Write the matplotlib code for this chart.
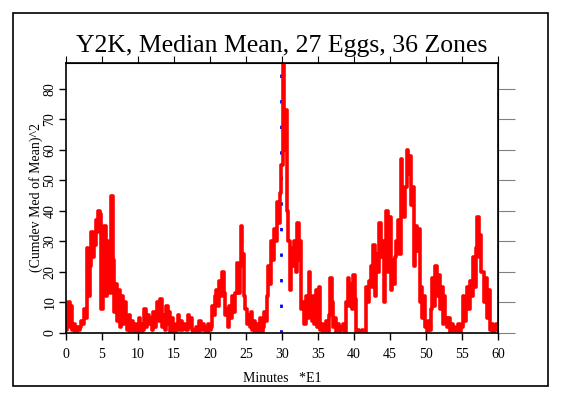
import matplotlib.pyplot as plt
import numpy as np
from matplotlib.patches import Rectangle

# (Cumdev Med of Mean)^2, sampled every 0.2 (units of 10 minutes)
values = [
    1, 3, 10, 2, 9,
    1, 3, 0, 2, 1,
    2, 4, 3, 8, 5,
    28, 12, 22, 33, 25,
    29, 37, 33, 40, 39,
    8, 16, 35, 12, 30,
    22, 13, 45, 24, 7,
    16, 4, 14, 2, 12,
    3, 10, 5, 1, 6,
    0, 4, 1, 3, 0,
    2, 5, 0, 3, 1,
    8, 2, 6, 3, 5,
    1, 7, 2, 5, 10,
    4, 11, 2, 6, 1,
    9, 3, 7, 0, 5,
    1, 0, 3, 6, 1,
    4, 1, 3, 2, 1,
    6, 2, 5, 1, 0,
    1, 2, 0, 4, 1,
    3, 1, 2, 0, 3,
    1, 2, 9, 6, 12,
    14, 9, 17, 12, 20,
    13, 6, 8, 2, 9,
    5, 12, 7, 13, 23,
    13, 22, 35, 26, 12,
    8, 3, 6, 2, 7,
    1, 4, 0, 3, 1,
    5, 0, 2, 7, 4,
    12, 22, 16, 30, 24,
    34, 30, 43, 36, 46,
    55, 92, 60, 73, 40,
    30, 14, 28, 22, 30,
    20, 36, 24, 30, 8,
    10, 3, 12, 5, 20,
    9, 4, 12, 3, 14,
    2, 15, 1, 3, 0,
    1, 4, 0, 6, 18,
    10, 2, 5, 0, 3,
    0, 2, 1, 3, 0,
    10, 18, 9, 16, 8,
    19, 11, 0, 1, 0,
    0, 1, 0, 0, 15,
    10, 17, 22, 15, 29,
    12, 26, 20, 36, 25,
    30, 10, 28, 40, 20,
    38, 14, 24, 16, 25,
    30, 37, 26, 57, 45,
    38, 48, 60, 52, 58,
    42, 48, 22, 35, 27,
    34, 10, 15, 5, 12,
    2, 0, 4, 1, 8,
    18, 9, 22, 12, 19,
    8, 15, 3, 12, 5,
    2, 5, 0, 3, 1,
    0, 2, 1, 3, 0,
    2, 12, 4, 10, 15,
    8, 17, 12, 25, 15,
    28, 38, 25, 32, 20,
    20, 10, 18, 5, 14,
    1, 3, 0, 2, 3,
    1,
]
minutes = np.arange(len(values)) * 0.2
event_time = 30
x_ticks = list(range(0, 61, 5))
y_ticks = list(range(0, 81, 10))

plt.rcParams['font.family'] = ['Liberation Serif', 'DejaVu Serif']

fig = plt.figure(figsize=(5.63, 3.96), dpi=100)
ax = fig.add_axes([66/563, 63/396, 432/563, 270/396])

# outer frame
fig.patches.append(Rectangle((13/563, 10/396), 535/563, 373/396, transform=fig.transFigure,
                             fill=False, edgecolor='black', linewidth=1.2))

ax.axvline(event_time - 0.1, color='blue', linestyle=(0, (1.2, 8)), linewidth=2, zorder=1)
ax.plot(minutes, values, color='red', linewidth=2.6, drawstyle='steps-mid', zorder=2)

ax.set_xlim(0, 60)
ax.set_ylim(0, 88.5)
ax.set_xticks(x_ticks)
ax.set_yticks(y_ticks)
ax.tick_params(axis='both', direction='out', length=5, width=1, labelsize=10)
ax.tick_params(axis='x', pad=6)
ax.tick_params(axis='y', pad=2)
for lab in ax.get_yticklabels():
    lab.set_rotation(90)
    lab.set_va('center')

# top ticks
top = ax.secondary_xaxis('top')
top.set_xticks(x_ticks)
top.tick_params(direction='out', length=5, labeltop=False)
# right ticks (grey, longer)
right = ax.secondary_yaxis('right')
right.set_yticks(y_ticks)
right.tick_params(direction='out', length=12, color='grey', labelright=False)

for s in ax.spines.values():
    s.set_linewidth(1.2)

ax.set_title('Y2K, Median Mean, 27 Eggs, 36 Zones', fontsize=18.5, pad=8)
ax.set_xlabel('Minutes   *E1', fontsize=10, labelpad=8)
ax.set_ylabel('(Cumdev Med of Mean)^2', fontsize=10, labelpad=0)

fig.savefig('out.png', dpi=100)
